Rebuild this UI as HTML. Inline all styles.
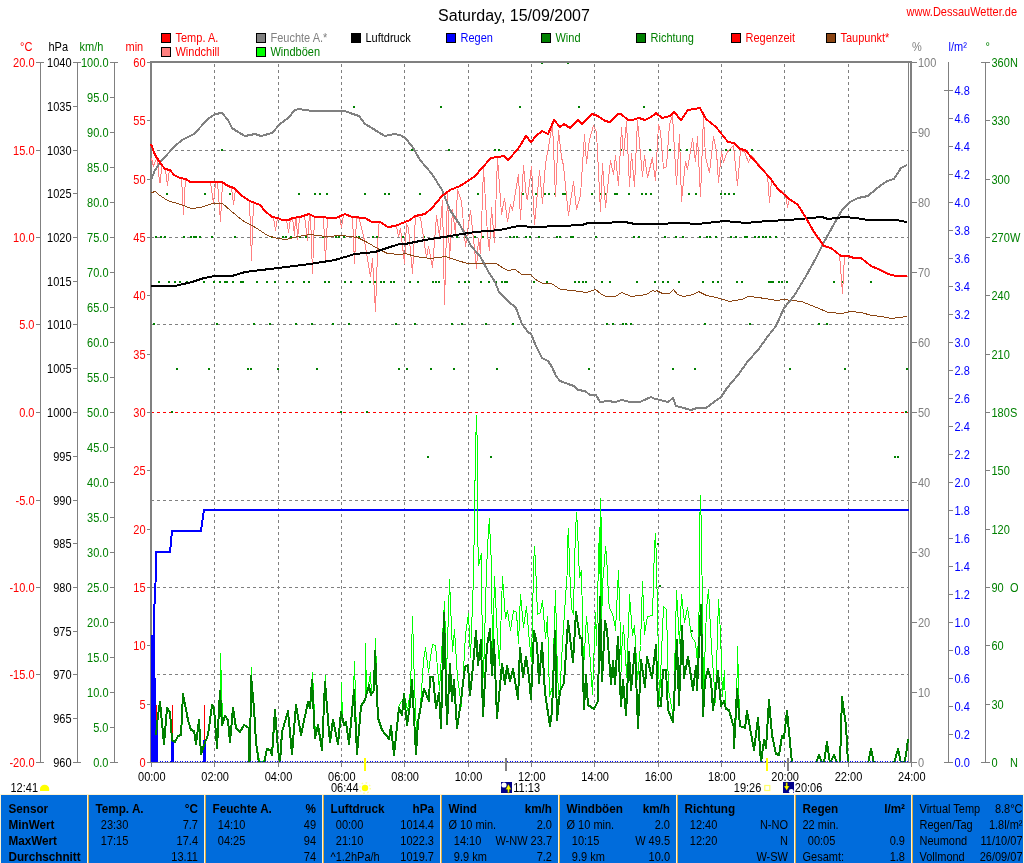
<!DOCTYPE html>
<html lang="de"><head><meta charset="utf-8"><title>DessauWetter – Saturday, 15/09/2007</title>
<style>
html,body{margin:0;padding:0;background:#fff}
svg{display:block;font-family:"Liberation Sans",Arial,sans-serif;font-size:12px;will-change:transform;-webkit-font-smoothing:antialiased}
</style></head><body>
<svg width="1024" height="863" viewBox="0 0 1024 863">
<rect width="1024" height="863" fill="#fff"/>
<text x="514" y="20.5" fill="#000" text-anchor="middle" font-size="16">Saturday, 15/09/2007</text>
<text transform="translate(1017 16) scale(0.917 1)" fill="#ff0000" text-anchor="end">www.DessauWetter.de</text>
<rect x="161.5" y="33.5" width="9" height="9" fill="#ff0000" stroke="#000" stroke-width="1"/>
<text transform="translate(175.5 42) scale(0.917 1)" fill="#ff0000" text-anchor="start">Temp. A.</text>
<rect x="161.5" y="47.5" width="9" height="9" fill="#ff8080" stroke="#000" stroke-width="1"/>
<text transform="translate(175.5 56) scale(0.917 1)" fill="#ff0000" text-anchor="start">Windchill</text>
<rect x="256.5" y="33.5" width="9" height="9" fill="#808080" stroke="#000" stroke-width="1"/>
<text transform="translate(270.5 42) scale(0.917 1)" fill="#808080" text-anchor="start">Feuchte A.*</text>
<rect x="256.5" y="47.5" width="9" height="9" fill="#00ff00" stroke="#000" stroke-width="1"/>
<text transform="translate(270.5 56) scale(0.917 1)" fill="#008000" text-anchor="start">Windböen</text>
<rect x="351.5" y="33.5" width="9" height="9" fill="#000000" stroke="#000" stroke-width="1"/>
<text transform="translate(365.5 42) scale(0.917 1)" fill="#000" text-anchor="start">Luftdruck</text>
<rect x="446.5" y="33.5" width="9" height="9" fill="#0000ff" stroke="#000" stroke-width="1"/>
<text transform="translate(460.5 42) scale(0.917 1)" fill="#0000ff" text-anchor="start">Regen</text>
<rect x="541.5" y="33.5" width="9" height="9" fill="#008000" stroke="#000" stroke-width="1"/>
<text transform="translate(555.5 42) scale(0.917 1)" fill="#008000" text-anchor="start">Wind</text>
<rect x="636.5" y="33.5" width="9" height="9" fill="#008000" stroke="#000" stroke-width="1"/>
<text transform="translate(650.5 42) scale(0.917 1)" fill="#008000" text-anchor="start">Richtung</text>
<rect x="731.5" y="33.5" width="9" height="9" fill="#ff0000" stroke="#000" stroke-width="1"/>
<text transform="translate(745.5 42) scale(0.917 1)" fill="#ff0000" text-anchor="start">Regenzeit</text>
<rect x="826.5" y="33.5" width="9" height="9" fill="#8b4513" stroke="#000" stroke-width="1"/>
<text transform="translate(840.5 42) scale(0.917 1)" fill="#ff0000" text-anchor="start">Taupunkt*</text>
<text transform="translate(20 51) scale(0.917 1)" fill="#ff0000" text-anchor="start">°C</text>
<text transform="translate(48.5 51) scale(0.917 1)" fill="#000" text-anchor="start">hPa</text>
<text transform="translate(79.5 51) scale(0.917 1)" fill="#008000" text-anchor="start">km/h</text>
<text transform="translate(125.5 51) scale(0.917 1)" fill="#ff0000" text-anchor="start">min</text>
<text transform="translate(912 51) scale(0.917 1)" fill="#808080" text-anchor="start">%</text>
<text transform="translate(948.5 51) scale(0.917 1)" fill="#0000ff" text-anchor="start">l/m²</text>
<text transform="translate(985.5 51) scale(0.917 1)" fill="#008000" text-anchor="start">°</text>
<g shape-rendering="crispEdges">
<line x1="40.5" y1="62.0" x2="40.5" y2="763.0" stroke="#808080" stroke-width="1"/>
<line x1="36" y1="62.5" x2="44" y2="62.5" stroke="#808080" stroke-width="1"/>
<line x1="36" y1="150.5" x2="41" y2="150.5" stroke="#808080" stroke-width="1"/>
<line x1="36" y1="237.5" x2="41" y2="237.5" stroke="#808080" stroke-width="1"/>
<line x1="36" y1="324.5" x2="41" y2="324.5" stroke="#808080" stroke-width="1"/>
<line x1="36" y1="412.5" x2="41" y2="412.5" stroke="#808080" stroke-width="1"/>
<line x1="36" y1="500.5" x2="41" y2="500.5" stroke="#808080" stroke-width="1"/>
<line x1="36" y1="587.5" x2="41" y2="587.5" stroke="#808080" stroke-width="1"/>
<line x1="36" y1="674.5" x2="41" y2="674.5" stroke="#808080" stroke-width="1"/>
<line x1="36" y1="762.5" x2="44" y2="762.5" stroke="#808080" stroke-width="1"/>
<line x1="77.5" y1="62.0" x2="77.5" y2="763.0" stroke="#808080" stroke-width="1"/>
<line x1="73" y1="62.5" x2="81" y2="62.5" stroke="#808080" stroke-width="1"/>
<line x1="73" y1="106.5" x2="78" y2="106.5" stroke="#808080" stroke-width="1"/>
<line x1="73" y1="150.5" x2="78" y2="150.5" stroke="#808080" stroke-width="1"/>
<line x1="73" y1="193.5" x2="78" y2="193.5" stroke="#808080" stroke-width="1"/>
<line x1="73" y1="237.5" x2="78" y2="237.5" stroke="#808080" stroke-width="1"/>
<line x1="73" y1="281.5" x2="78" y2="281.5" stroke="#808080" stroke-width="1"/>
<line x1="73" y1="324.5" x2="78" y2="324.5" stroke="#808080" stroke-width="1"/>
<line x1="73" y1="368.5" x2="78" y2="368.5" stroke="#808080" stroke-width="1"/>
<line x1="73" y1="412.5" x2="78" y2="412.5" stroke="#808080" stroke-width="1"/>
<line x1="73" y1="456.5" x2="78" y2="456.5" stroke="#808080" stroke-width="1"/>
<line x1="73" y1="500.5" x2="78" y2="500.5" stroke="#808080" stroke-width="1"/>
<line x1="73" y1="543.5" x2="78" y2="543.5" stroke="#808080" stroke-width="1"/>
<line x1="73" y1="587.5" x2="78" y2="587.5" stroke="#808080" stroke-width="1"/>
<line x1="73" y1="631.5" x2="78" y2="631.5" stroke="#808080" stroke-width="1"/>
<line x1="73" y1="674.5" x2="78" y2="674.5" stroke="#808080" stroke-width="1"/>
<line x1="73" y1="718.5" x2="78" y2="718.5" stroke="#808080" stroke-width="1"/>
<line x1="73" y1="762.5" x2="81" y2="762.5" stroke="#808080" stroke-width="1"/>
<line x1="114.5" y1="62.0" x2="114.5" y2="763.0" stroke="#808080" stroke-width="1"/>
<line x1="110" y1="62.5" x2="118" y2="62.5" stroke="#808080" stroke-width="1"/>
<line x1="110" y1="97.5" x2="115" y2="97.5" stroke="#808080" stroke-width="1"/>
<line x1="110" y1="132.5" x2="115" y2="132.5" stroke="#808080" stroke-width="1"/>
<line x1="110" y1="167.5" x2="115" y2="167.5" stroke="#808080" stroke-width="1"/>
<line x1="110" y1="202.5" x2="115" y2="202.5" stroke="#808080" stroke-width="1"/>
<line x1="110" y1="237.5" x2="115" y2="237.5" stroke="#808080" stroke-width="1"/>
<line x1="110" y1="272.5" x2="115" y2="272.5" stroke="#808080" stroke-width="1"/>
<line x1="110" y1="307.5" x2="115" y2="307.5" stroke="#808080" stroke-width="1"/>
<line x1="110" y1="342.5" x2="115" y2="342.5" stroke="#808080" stroke-width="1"/>
<line x1="110" y1="377.5" x2="115" y2="377.5" stroke="#808080" stroke-width="1"/>
<line x1="110" y1="412.5" x2="115" y2="412.5" stroke="#808080" stroke-width="1"/>
<line x1="110" y1="447.5" x2="115" y2="447.5" stroke="#808080" stroke-width="1"/>
<line x1="110" y1="482.5" x2="115" y2="482.5" stroke="#808080" stroke-width="1"/>
<line x1="110" y1="517.5" x2="115" y2="517.5" stroke="#808080" stroke-width="1"/>
<line x1="110" y1="552.5" x2="115" y2="552.5" stroke="#808080" stroke-width="1"/>
<line x1="110" y1="587.5" x2="115" y2="587.5" stroke="#808080" stroke-width="1"/>
<line x1="110" y1="622.5" x2="115" y2="622.5" stroke="#808080" stroke-width="1"/>
<line x1="110" y1="657.5" x2="115" y2="657.5" stroke="#808080" stroke-width="1"/>
<line x1="110" y1="692.5" x2="115" y2="692.5" stroke="#808080" stroke-width="1"/>
<line x1="110" y1="727.5" x2="115" y2="727.5" stroke="#808080" stroke-width="1"/>
<line x1="110" y1="762.5" x2="118" y2="762.5" stroke="#808080" stroke-width="1"/>
<line x1="147" y1="62.5" x2="150" y2="62.5" stroke="#808080" stroke-width="1"/>
<line x1="147" y1="120.5" x2="150" y2="120.5" stroke="#808080" stroke-width="1"/>
<line x1="147" y1="179.5" x2="150" y2="179.5" stroke="#808080" stroke-width="1"/>
<line x1="147" y1="237.5" x2="150" y2="237.5" stroke="#808080" stroke-width="1"/>
<line x1="147" y1="295.5" x2="150" y2="295.5" stroke="#808080" stroke-width="1"/>
<line x1="147" y1="354.5" x2="150" y2="354.5" stroke="#808080" stroke-width="1"/>
<line x1="147" y1="412.5" x2="150" y2="412.5" stroke="#808080" stroke-width="1"/>
<line x1="147" y1="470.5" x2="150" y2="470.5" stroke="#808080" stroke-width="1"/>
<line x1="147" y1="529.5" x2="150" y2="529.5" stroke="#808080" stroke-width="1"/>
<line x1="147" y1="587.5" x2="150" y2="587.5" stroke="#808080" stroke-width="1"/>
<line x1="147" y1="645.5" x2="150" y2="645.5" stroke="#808080" stroke-width="1"/>
<line x1="147" y1="704.5" x2="150" y2="704.5" stroke="#808080" stroke-width="1"/>
<line x1="147" y1="762.5" x2="150" y2="762.5" stroke="#808080" stroke-width="1"/>
<line x1="912" y1="62.5" x2="917" y2="62.5" stroke="#808080" stroke-width="1"/>
<line x1="912" y1="132.5" x2="917" y2="132.5" stroke="#808080" stroke-width="1"/>
<line x1="912" y1="202.5" x2="917" y2="202.5" stroke="#808080" stroke-width="1"/>
<line x1="912" y1="272.5" x2="917" y2="272.5" stroke="#808080" stroke-width="1"/>
<line x1="912" y1="342.5" x2="917" y2="342.5" stroke="#808080" stroke-width="1"/>
<line x1="912" y1="412.5" x2="917" y2="412.5" stroke="#808080" stroke-width="1"/>
<line x1="912" y1="482.5" x2="917" y2="482.5" stroke="#808080" stroke-width="1"/>
<line x1="912" y1="552.5" x2="917" y2="552.5" stroke="#808080" stroke-width="1"/>
<line x1="912" y1="622.5" x2="917" y2="622.5" stroke="#808080" stroke-width="1"/>
<line x1="912" y1="692.5" x2="917" y2="692.5" stroke="#808080" stroke-width="1"/>
<line x1="912" y1="762.5" x2="917" y2="762.5" stroke="#808080" stroke-width="1"/>
<line x1="948.5" y1="62.0" x2="948.5" y2="763.0" stroke="#808080" stroke-width="1"/>
<line x1="944" y1="90.5" x2="953" y2="90.5" stroke="#808080" stroke-width="1"/>
<line x1="949" y1="118.5" x2="953" y2="118.5" stroke="#808080" stroke-width="1"/>
<line x1="949" y1="146.5" x2="953" y2="146.5" stroke="#808080" stroke-width="1"/>
<line x1="949" y1="174.5" x2="953" y2="174.5" stroke="#808080" stroke-width="1"/>
<line x1="949" y1="202.5" x2="953" y2="202.5" stroke="#808080" stroke-width="1"/>
<line x1="949" y1="230.5" x2="953" y2="230.5" stroke="#808080" stroke-width="1"/>
<line x1="949" y1="258.5" x2="953" y2="258.5" stroke="#808080" stroke-width="1"/>
<line x1="949" y1="286.5" x2="953" y2="286.5" stroke="#808080" stroke-width="1"/>
<line x1="949" y1="314.5" x2="953" y2="314.5" stroke="#808080" stroke-width="1"/>
<line x1="949" y1="342.5" x2="953" y2="342.5" stroke="#808080" stroke-width="1"/>
<line x1="949" y1="370.5" x2="953" y2="370.5" stroke="#808080" stroke-width="1"/>
<line x1="949" y1="398.5" x2="953" y2="398.5" stroke="#808080" stroke-width="1"/>
<line x1="949" y1="426.5" x2="953" y2="426.5" stroke="#808080" stroke-width="1"/>
<line x1="949" y1="454.5" x2="953" y2="454.5" stroke="#808080" stroke-width="1"/>
<line x1="949" y1="482.5" x2="953" y2="482.5" stroke="#808080" stroke-width="1"/>
<line x1="949" y1="510.5" x2="953" y2="510.5" stroke="#808080" stroke-width="1"/>
<line x1="949" y1="538.5" x2="953" y2="538.5" stroke="#808080" stroke-width="1"/>
<line x1="949" y1="566.5" x2="953" y2="566.5" stroke="#808080" stroke-width="1"/>
<line x1="949" y1="594.5" x2="953" y2="594.5" stroke="#808080" stroke-width="1"/>
<line x1="949" y1="622.5" x2="953" y2="622.5" stroke="#808080" stroke-width="1"/>
<line x1="949" y1="650.5" x2="953" y2="650.5" stroke="#808080" stroke-width="1"/>
<line x1="949" y1="678.5" x2="953" y2="678.5" stroke="#808080" stroke-width="1"/>
<line x1="949" y1="706.5" x2="953" y2="706.5" stroke="#808080" stroke-width="1"/>
<line x1="949" y1="734.5" x2="953" y2="734.5" stroke="#808080" stroke-width="1"/>
<line x1="944" y1="762.5" x2="953" y2="762.5" stroke="#808080" stroke-width="1"/>
<line x1="985.5" y1="62.0" x2="985.5" y2="763.0" stroke="#808080" stroke-width="1"/>
<line x1="981" y1="62.5" x2="990" y2="62.5" stroke="#808080" stroke-width="1"/>
<line x1="986" y1="120.5" x2="990" y2="120.5" stroke="#808080" stroke-width="1"/>
<line x1="986" y1="179.5" x2="990" y2="179.5" stroke="#808080" stroke-width="1"/>
<line x1="986" y1="237.5" x2="990" y2="237.5" stroke="#808080" stroke-width="1"/>
<line x1="986" y1="295.5" x2="990" y2="295.5" stroke="#808080" stroke-width="1"/>
<line x1="986" y1="354.5" x2="990" y2="354.5" stroke="#808080" stroke-width="1"/>
<line x1="986" y1="412.5" x2="990" y2="412.5" stroke="#808080" stroke-width="1"/>
<line x1="986" y1="470.5" x2="990" y2="470.5" stroke="#808080" stroke-width="1"/>
<line x1="986" y1="529.5" x2="990" y2="529.5" stroke="#808080" stroke-width="1"/>
<line x1="986" y1="587.5" x2="990" y2="587.5" stroke="#808080" stroke-width="1"/>
<line x1="986" y1="645.5" x2="990" y2="645.5" stroke="#808080" stroke-width="1"/>
<line x1="986" y1="704.5" x2="990" y2="704.5" stroke="#808080" stroke-width="1"/>
<line x1="981" y1="762.5" x2="990" y2="762.5" stroke="#808080" stroke-width="1"/>
<line x1="214.5" y1="763" x2="214.5" y2="63.0" stroke="#808080" stroke-width="1" stroke-dasharray="3,3"/>
<line x1="278.5" y1="763" x2="278.5" y2="63.0" stroke="#808080" stroke-width="1" stroke-dasharray="3,3"/>
<line x1="341.5" y1="763" x2="341.5" y2="63.0" stroke="#808080" stroke-width="1" stroke-dasharray="3,3"/>
<line x1="404.5" y1="763" x2="404.5" y2="63.0" stroke="#808080" stroke-width="1" stroke-dasharray="3,3"/>
<line x1="468.5" y1="763" x2="468.5" y2="63.0" stroke="#808080" stroke-width="1" stroke-dasharray="3,3"/>
<line x1="531.5" y1="763" x2="531.5" y2="63.0" stroke="#808080" stroke-width="1" stroke-dasharray="3,3"/>
<line x1="594.5" y1="763" x2="594.5" y2="63.0" stroke="#808080" stroke-width="1" stroke-dasharray="3,3"/>
<line x1="658.5" y1="763" x2="658.5" y2="63.0" stroke="#808080" stroke-width="1" stroke-dasharray="3,3"/>
<line x1="721.5" y1="763" x2="721.5" y2="63.0" stroke="#808080" stroke-width="1" stroke-dasharray="3,3"/>
<line x1="784.5" y1="763" x2="784.5" y2="63.0" stroke="#808080" stroke-width="1" stroke-dasharray="3,3"/>
<line x1="848.5" y1="763" x2="848.5" y2="63.0" stroke="#808080" stroke-width="1" stroke-dasharray="3,3"/>
<line x1="151" y1="150.5" x2="909" y2="150.5" stroke="#808080" stroke-width="1" stroke-dasharray="3,3"/>
<line x1="151" y1="237.5" x2="909" y2="237.5" stroke="#808080" stroke-width="1" stroke-dasharray="3,3"/>
<line x1="151" y1="324.5" x2="909" y2="324.5" stroke="#808080" stroke-width="1" stroke-dasharray="3,3"/>
<line x1="151" y1="412.5" x2="909" y2="412.5" stroke="#ff0000" stroke-width="1" stroke-dasharray="3,3"/>
<line x1="151" y1="500.5" x2="909" y2="500.5" stroke="#808080" stroke-width="1" stroke-dasharray="3,3"/>
<line x1="151" y1="587.5" x2="909" y2="587.5" stroke="#808080" stroke-width="1" stroke-dasharray="3,3"/>
<line x1="151" y1="674.5" x2="909" y2="674.5" stroke="#808080" stroke-width="1" stroke-dasharray="3,3"/>
<rect x="353" y="106" width="2" height="2" fill="#008000"/>
<rect x="221" y="149" width="2" height="2" fill="#008000"/>
<rect x="166" y="193" width="2" height="2" fill="#008000"/>
<rect x="204" y="193" width="2" height="2" fill="#008000"/>
<rect x="229" y="193" width="2" height="2" fill="#008000"/>
<rect x="298" y="193" width="2" height="2" fill="#008000"/>
<rect x="314" y="193" width="2" height="2" fill="#008000"/>
<rect x="319" y="193" width="2" height="2" fill="#008000"/>
<rect x="326" y="193" width="2" height="2" fill="#008000"/>
<rect x="364" y="193" width="2" height="2" fill="#008000"/>
<rect x="384" y="193" width="2" height="2" fill="#008000"/>
<rect x="388" y="193" width="2" height="2" fill="#008000"/>
<rect x="155" y="236" width="2" height="2" fill="#008000"/>
<rect x="160" y="236" width="2" height="2" fill="#008000"/>
<rect x="164" y="236" width="2" height="2" fill="#008000"/>
<rect x="183" y="236" width="2" height="2" fill="#008000"/>
<rect x="190" y="236" width="2" height="2" fill="#008000"/>
<rect x="193" y="236" width="2" height="2" fill="#008000"/>
<rect x="195" y="236" width="2" height="2" fill="#008000"/>
<rect x="199" y="236" width="2" height="2" fill="#008000"/>
<rect x="211" y="236" width="2" height="2" fill="#008000"/>
<rect x="234" y="236" width="2" height="2" fill="#008000"/>
<rect x="271" y="236" width="2" height="2" fill="#008000"/>
<rect x="282" y="236" width="2" height="2" fill="#008000"/>
<rect x="285" y="236" width="2" height="2" fill="#008000"/>
<rect x="290" y="236" width="2" height="2" fill="#008000"/>
<rect x="299" y="236" width="2" height="2" fill="#008000"/>
<rect x="305" y="236" width="2" height="2" fill="#008000"/>
<rect x="322" y="236" width="2" height="2" fill="#008000"/>
<rect x="335" y="236" width="2" height="2" fill="#008000"/>
<rect x="338" y="236" width="2" height="2" fill="#008000"/>
<rect x="343" y="236" width="2" height="2" fill="#008000"/>
<rect x="355" y="236" width="2" height="2" fill="#008000"/>
<rect x="358" y="236" width="2" height="2" fill="#008000"/>
<rect x="372" y="236" width="2" height="2" fill="#008000"/>
<rect x="376" y="236" width="2" height="2" fill="#008000"/>
<rect x="402" y="236" width="2" height="2" fill="#008000"/>
<rect x="541" y="62" width="2" height="2" fill="#008000"/>
<rect x="567" y="62" width="2" height="2" fill="#008000"/>
<rect x="440" y="106" width="2" height="2" fill="#008000"/>
<rect x="519" y="106" width="2" height="2" fill="#008000"/>
<rect x="578" y="106" width="2" height="2" fill="#008000"/>
<rect x="643" y="106" width="2" height="2" fill="#008000"/>
<rect x="411" y="149" width="2" height="2" fill="#008000"/>
<rect x="448" y="149" width="2" height="2" fill="#008000"/>
<rect x="494" y="149" width="2" height="2" fill="#008000"/>
<rect x="498" y="149" width="2" height="2" fill="#008000"/>
<rect x="620" y="149" width="2" height="2" fill="#008000"/>
<rect x="649" y="149" width="2" height="2" fill="#008000"/>
<rect x="419" y="193" width="2" height="2" fill="#008000"/>
<rect x="477" y="193" width="2" height="2" fill="#008000"/>
<rect x="522" y="193" width="2" height="2" fill="#008000"/>
<rect x="535" y="193" width="2" height="2" fill="#008000"/>
<rect x="544" y="193" width="2" height="2" fill="#008000"/>
<rect x="548" y="193" width="2" height="2" fill="#008000"/>
<rect x="554" y="193" width="2" height="2" fill="#008000"/>
<rect x="562" y="193" width="2" height="2" fill="#008000"/>
<rect x="564" y="193" width="2" height="2" fill="#008000"/>
<rect x="591" y="193" width="2" height="2" fill="#008000"/>
<rect x="599" y="193" width="2" height="2" fill="#008000"/>
<rect x="604" y="193" width="2" height="2" fill="#008000"/>
<rect x="614" y="193" width="2" height="2" fill="#008000"/>
<rect x="616" y="193" width="2" height="2" fill="#008000"/>
<rect x="628" y="193" width="2" height="2" fill="#008000"/>
<rect x="641" y="193" width="2" height="2" fill="#008000"/>
<rect x="645" y="193" width="2" height="2" fill="#008000"/>
<rect x="650" y="193" width="2" height="2" fill="#008000"/>
<rect x="402" y="236" width="2" height="2" fill="#008000"/>
<rect x="423" y="236" width="2" height="2" fill="#008000"/>
<rect x="443" y="236" width="2" height="2" fill="#008000"/>
<rect x="446" y="236" width="2" height="2" fill="#008000"/>
<rect x="456" y="236" width="2" height="2" fill="#008000"/>
<rect x="464" y="236" width="2" height="2" fill="#008000"/>
<rect x="474" y="236" width="2" height="2" fill="#008000"/>
<rect x="482" y="236" width="2" height="2" fill="#008000"/>
<rect x="509" y="236" width="2" height="2" fill="#008000"/>
<rect x="513" y="236" width="2" height="2" fill="#008000"/>
<rect x="516" y="236" width="2" height="2" fill="#008000"/>
<rect x="525" y="236" width="2" height="2" fill="#008000"/>
<rect x="529" y="236" width="2" height="2" fill="#008000"/>
<rect x="538" y="236" width="2" height="2" fill="#008000"/>
<rect x="556" y="236" width="2" height="2" fill="#008000"/>
<rect x="559" y="236" width="2" height="2" fill="#008000"/>
<rect x="570" y="236" width="2" height="2" fill="#008000"/>
<rect x="572" y="236" width="2" height="2" fill="#008000"/>
<rect x="595" y="236" width="2" height="2" fill="#008000"/>
<rect x="633" y="236" width="2" height="2" fill="#008000"/>
<rect x="638" y="236" width="2" height="2" fill="#008000"/>
<rect x="669" y="149" width="2" height="2" fill="#008000"/>
<rect x="679" y="149" width="2" height="2" fill="#008000"/>
<rect x="686" y="149" width="2" height="2" fill="#008000"/>
<rect x="725" y="149" width="2" height="2" fill="#008000"/>
<rect x="729" y="149" width="2" height="2" fill="#008000"/>
<rect x="751" y="149" width="2" height="2" fill="#008000"/>
<rect x="688" y="193" width="2" height="2" fill="#008000"/>
<rect x="695" y="193" width="2" height="2" fill="#008000"/>
<rect x="720" y="193" width="2" height="2" fill="#008000"/>
<rect x="724" y="193" width="2" height="2" fill="#008000"/>
<rect x="728" y="193" width="2" height="2" fill="#008000"/>
<rect x="733" y="193" width="2" height="2" fill="#008000"/>
<rect x="664" y="236" width="2" height="2" fill="#008000"/>
<rect x="675" y="236" width="2" height="2" fill="#008000"/>
<rect x="682" y="236" width="2" height="2" fill="#008000"/>
<rect x="699" y="236" width="2" height="2" fill="#008000"/>
<rect x="706" y="236" width="2" height="2" fill="#008000"/>
<rect x="709" y="236" width="2" height="2" fill="#008000"/>
<rect x="715" y="236" width="2" height="2" fill="#008000"/>
<rect x="730" y="236" width="2" height="2" fill="#008000"/>
<rect x="735" y="236" width="2" height="2" fill="#008000"/>
<rect x="744" y="236" width="2" height="2" fill="#008000"/>
<rect x="746" y="236" width="2" height="2" fill="#008000"/>
<rect x="754" y="236" width="2" height="2" fill="#008000"/>
<rect x="758" y="236" width="2" height="2" fill="#008000"/>
<rect x="762" y="236" width="2" height="2" fill="#008000"/>
<rect x="765" y="236" width="2" height="2" fill="#008000"/>
<rect x="769" y="236" width="2" height="2" fill="#008000"/>
<rect x="775" y="236" width="2" height="2" fill="#008000"/>
<rect x="158" y="281" width="2" height="2" fill="#008000"/>
<rect x="168" y="281" width="2" height="2" fill="#008000"/>
<rect x="174" y="281" width="2" height="2" fill="#008000"/>
<rect x="179" y="281" width="2" height="2" fill="#008000"/>
<rect x="186" y="281" width="2" height="2" fill="#008000"/>
<rect x="203" y="281" width="2" height="2" fill="#008000"/>
<rect x="213" y="281" width="2" height="2" fill="#008000"/>
<rect x="219" y="281" width="2" height="2" fill="#008000"/>
<rect x="224" y="281" width="2" height="2" fill="#008000"/>
<rect x="226" y="281" width="2" height="2" fill="#008000"/>
<rect x="232" y="281" width="2" height="2" fill="#008000"/>
<rect x="240" y="281" width="2" height="2" fill="#008000"/>
<rect x="242" y="281" width="2" height="2" fill="#008000"/>
<rect x="256" y="281" width="2" height="2" fill="#008000"/>
<rect x="266" y="281" width="2" height="2" fill="#008000"/>
<rect x="274" y="281" width="2" height="2" fill="#008000"/>
<rect x="286" y="281" width="2" height="2" fill="#008000"/>
<rect x="292" y="281" width="2" height="2" fill="#008000"/>
<rect x="303" y="281" width="2" height="2" fill="#008000"/>
<rect x="308" y="281" width="2" height="2" fill="#008000"/>
<rect x="324" y="281" width="2" height="2" fill="#008000"/>
<rect x="328" y="281" width="2" height="2" fill="#008000"/>
<rect x="344" y="281" width="2" height="2" fill="#008000"/>
<rect x="350" y="281" width="2" height="2" fill="#008000"/>
<rect x="361" y="281" width="2" height="2" fill="#008000"/>
<rect x="369" y="281" width="2" height="2" fill="#008000"/>
<rect x="374" y="281" width="2" height="2" fill="#008000"/>
<rect x="380" y="281" width="2" height="2" fill="#008000"/>
<rect x="383" y="281" width="2" height="2" fill="#008000"/>
<rect x="390" y="281" width="2" height="2" fill="#008000"/>
<rect x="393" y="281" width="2" height="2" fill="#008000"/>
<rect x="153" y="323" width="2" height="2" fill="#008000"/>
<rect x="216" y="323" width="2" height="2" fill="#008000"/>
<rect x="253" y="323" width="2" height="2" fill="#008000"/>
<rect x="269" y="323" width="2" height="2" fill="#008000"/>
<rect x="295" y="323" width="2" height="2" fill="#008000"/>
<rect x="311" y="323" width="2" height="2" fill="#008000"/>
<rect x="332" y="323" width="2" height="2" fill="#008000"/>
<rect x="348" y="323" width="2" height="2" fill="#008000"/>
<rect x="395" y="323" width="2" height="2" fill="#008000"/>
<rect x="176" y="368" width="2" height="2" fill="#008000"/>
<rect x="208" y="368" width="2" height="2" fill="#008000"/>
<rect x="247" y="368" width="2" height="2" fill="#008000"/>
<rect x="250" y="368" width="2" height="2" fill="#008000"/>
<rect x="277" y="368" width="2" height="2" fill="#008000"/>
<rect x="316" y="368" width="2" height="2" fill="#008000"/>
<rect x="398" y="368" width="2" height="2" fill="#008000"/>
<rect x="171" y="411" width="2" height="2" fill="#008000"/>
<rect x="340" y="411" width="2" height="2" fill="#008000"/>
<rect x="366" y="411" width="2" height="2" fill="#008000"/>
<rect x="409" y="281" width="2" height="2" fill="#008000"/>
<rect x="417" y="281" width="2" height="2" fill="#008000"/>
<rect x="432" y="281" width="2" height="2" fill="#008000"/>
<rect x="435" y="281" width="2" height="2" fill="#008000"/>
<rect x="438" y="281" width="2" height="2" fill="#008000"/>
<rect x="458" y="281" width="2" height="2" fill="#008000"/>
<rect x="464" y="281" width="2" height="2" fill="#008000"/>
<rect x="468" y="281" width="2" height="2" fill="#008000"/>
<rect x="480" y="281" width="2" height="2" fill="#008000"/>
<rect x="488" y="281" width="2" height="2" fill="#008000"/>
<rect x="495" y="281" width="2" height="2" fill="#008000"/>
<rect x="501" y="281" width="2" height="2" fill="#008000"/>
<rect x="504" y="281" width="2" height="2" fill="#008000"/>
<rect x="506" y="281" width="2" height="2" fill="#008000"/>
<rect x="533" y="281" width="2" height="2" fill="#008000"/>
<rect x="546" y="281" width="2" height="2" fill="#008000"/>
<rect x="574" y="281" width="2" height="2" fill="#008000"/>
<rect x="578" y="281" width="2" height="2" fill="#008000"/>
<rect x="582" y="281" width="2" height="2" fill="#008000"/>
<rect x="585" y="281" width="2" height="2" fill="#008000"/>
<rect x="601" y="281" width="2" height="2" fill="#008000"/>
<rect x="609" y="281" width="2" height="2" fill="#008000"/>
<rect x="636" y="281" width="2" height="2" fill="#008000"/>
<rect x="654" y="281" width="2" height="2" fill="#008000"/>
<rect x="414" y="323" width="2" height="2" fill="#008000"/>
<rect x="451" y="323" width="2" height="2" fill="#008000"/>
<rect x="461" y="323" width="2" height="2" fill="#008000"/>
<rect x="485" y="323" width="2" height="2" fill="#008000"/>
<rect x="512" y="323" width="2" height="2" fill="#008000"/>
<rect x="606" y="323" width="2" height="2" fill="#008000"/>
<rect x="612" y="323" width="2" height="2" fill="#008000"/>
<rect x="622" y="323" width="2" height="2" fill="#008000"/>
<rect x="625" y="323" width="2" height="2" fill="#008000"/>
<rect x="630" y="323" width="2" height="2" fill="#008000"/>
<rect x="406" y="368" width="2" height="2" fill="#008000"/>
<rect x="430" y="368" width="2" height="2" fill="#008000"/>
<rect x="453" y="368" width="2" height="2" fill="#008000"/>
<rect x="496" y="368" width="2" height="2" fill="#008000"/>
<rect x="588" y="368" width="2" height="2" fill="#008000"/>
<rect x="427" y="456" width="2" height="2" fill="#008000"/>
<rect x="490" y="456" width="2" height="2" fill="#008000"/>
<rect x="662" y="281" width="2" height="2" fill="#008000"/>
<rect x="667" y="281" width="2" height="2" fill="#008000"/>
<rect x="678" y="281" width="2" height="2" fill="#008000"/>
<rect x="702" y="281" width="2" height="2" fill="#008000"/>
<rect x="712" y="281" width="2" height="2" fill="#008000"/>
<rect x="717" y="281" width="2" height="2" fill="#008000"/>
<rect x="736" y="281" width="2" height="2" fill="#008000"/>
<rect x="741" y="281" width="2" height="2" fill="#008000"/>
<rect x="768" y="281" width="2" height="2" fill="#008000"/>
<rect x="770" y="281" width="2" height="2" fill="#008000"/>
<rect x="772" y="281" width="2" height="2" fill="#008000"/>
<rect x="778" y="281" width="2" height="2" fill="#008000"/>
<rect x="781" y="281" width="2" height="2" fill="#008000"/>
<rect x="786" y="281" width="2" height="2" fill="#008000"/>
<rect x="833" y="281" width="2" height="2" fill="#008000"/>
<rect x="841" y="281" width="2" height="2" fill="#008000"/>
<rect x="870" y="281" width="2" height="2" fill="#008000"/>
<rect x="704" y="323" width="2" height="2" fill="#008000"/>
<rect x="749" y="323" width="2" height="2" fill="#008000"/>
<rect x="818" y="323" width="2" height="2" fill="#008000"/>
<rect x="826" y="323" width="2" height="2" fill="#008000"/>
<rect x="672" y="368" width="2" height="2" fill="#008000"/>
<rect x="694" y="368" width="2" height="2" fill="#008000"/>
<rect x="789" y="368" width="2" height="2" fill="#008000"/>
<rect x="844" y="368" width="2" height="2" fill="#008000"/>
<rect x="906" y="368" width="2" height="2" fill="#008000"/>
<rect x="905" y="411" width="2" height="2" fill="#008000"/>
<rect x="894" y="456" width="2" height="2" fill="#008000"/>
<rect x="897" y="456" width="2" height="2" fill="#008000"/>
<rect x="657" y="543" width="2" height="2" fill="#008000"/>
<rect x="659" y="585" width="2" height="2" fill="#008000"/>
<rect x="691" y="630" width="2" height="2" fill="#008000"/>
</g>
<g shape-rendering="crispEdges">
<rect x="150" y="61" width="762" height="2" fill="#808080"/>
<rect x="150" y="62" width="2" height="701" fill="#808080"/>
<rect x="908" y="62" width="1" height="701" fill="#808080"/>
<rect x="910" y="62" width="2" height="701" fill="#808080"/>
<line x1="150" y1="762.5" x2="912" y2="762.5" stroke="#808080" stroke-width="1"/>
</g>
<g shape-rendering="crispEdges">
<rect x="151" y="635" width="4" height="127" fill="#0000ff"/>
<rect x="151" y="678" width="5" height="84" fill="#0000ff"/>
<rect x="151" y="720" width="7" height="42" fill="#0000ff"/>
<rect x="171" y="740" width="3" height="22" fill="#0000ff"/>
<rect x="203" y="740" width="3" height="22" fill="#0000ff"/>
<line x1="156.5" y1="705" x2="156.5" y2="720" stroke="#ff0000" stroke-width="1"/>
<line x1="172.5" y1="705" x2="172.5" y2="740" stroke="#ff0000" stroke-width="1"/>
<line x1="204.5" y1="705" x2="204.5" y2="740" stroke="#ff0000" stroke-width="1"/>
</g>
<polyline points="154,762 154,615 155,594 156,572 156,552 170,552 172,531 201,531 204,510 909,510" fill="none" stroke="#0000ff" stroke-width="2" stroke-linejoin="round" shape-rendering="crispEdges"/>
<polyline points="155.5,735.5 157.5,715.5 159.5,702.5 163.5,743.5 167.5,707.5 169.5,712.5 172.5,740.5 175.5,742.5 177.5,736.5 181.5,735.5 183.5,693.5 187.5,720.5 191.5,730.5 193.5,731.5 196.5,743.5 198.5,720.5 201.5,753.5 203.5,745.5 207.5,735.5 212.5,705.5 213.5,707.5 217.5,747.5 219.5,710.5 220.5,691.5 220.5,653.5 222.5,718.5 222.5,725.5 225.5,716.5 228.5,720.5 230.5,742.5 233.5,707.5 236.5,727.5 240.5,732.5 243.5,725.5 248.5,727.5 249.5,761.5 249.5,761.5 250.5,761.5 251.5,676.5 251.5,667.5 252.5,695.5 253.5,707.5 256.5,742.5 259.5,761.5 263.5,761.5 267.5,748.5 270.5,750.5 272.5,755.5 275.5,710.5 277.5,750.5 280.5,761.5 282.5,732.5 287.5,711.5 292.5,753.5 296.5,705.5 301.5,735.5 307.5,702.5 310.5,707.5 311.5,696.5 312.5,680.5 312.5,672.5 314.5,714.5 315.5,737.5 317.5,725.5 322.5,750.5 323.5,723.5 325.5,682.5 325.5,675.5 326.5,702.5 328.5,732.5 330.5,742.5 333.5,720.5 337.5,743.5 339.5,725.5 341.5,712.5 341.5,682.5 342.5,720.5 343.5,725.5 346.5,722.5 348.5,743.5 353.5,698.5 353.5,690.5 354.5,661.5 356.5,734.5 357.5,753.5 361.5,706.5 363.5,702.5 365.5,700.5 365.5,643.5 366.5,694.5 368.5,686.5 368.5,685.5 370.5,672.5 371.5,695.5 371.5,694.5 373.5,690.5 374.5,682.5 375.5,651.5 375.5,638.5 377.5,704.5 377.5,717.5 382.5,730.5 388.5,738.5 391.5,726.5 394.5,755.5 398.5,707.5 400.5,702.5 402.5,700.5 404.5,695.5 407.5,710.5 410.5,690.5 412.5,616.5 414.5,685.5 416.5,732.5 420.5,705.5 423.5,660.5 425.5,647.5 428.5,672.5 430.5,657.5 432.5,644.5 435.5,645.5 439.5,690.5 444.5,601.5 446.5,675.5 449.5,579.5 452.5,651.5 454.5,629.5 457.5,677.5 461.5,706.5 465.5,634.5 468.5,613.5 470.5,657.5 473.5,577.5 474.5,513.5 475.5,449.5 476.5,415.5 477.5,453.5 477.5,527.5 478.5,565.5 481.5,553.5 481.5,593.5 483.5,677.5 486.5,569.5 487.5,549.5 488.5,529.5 489.5,518.5 490.5,549.5 491.5,560.5 492.5,665.5 494.5,576.5 497.5,638.5 499.5,665.5 502.5,576.5 505.5,618.5 507.5,610.5 510.5,630.5 513.5,610.5 516.5,612.5 518.5,643.5 520.5,594.5 523.5,627.5 526.5,606.5 529.5,642.5 531.5,661.5 533.5,571.5 533.5,566.5 534.5,546.5 535.5,562.5 537.5,614.5 540.5,612.5 542.5,600.5 545.5,638.5 547.5,616.5 549.5,696.5 552.5,686.5 555.5,590.5 557.5,677.5 559.5,700.5 562.5,642.5 565.5,597.5 567.5,568.5 567.5,541.5 568.5,528.5 569.5,566.5 571.5,608.5 573.5,614.5 574.5,565.5 575.5,531.5 576.5,512.5 577.5,527.5 578.5,554.5 579.5,577.5 581.5,570.5 583.5,669.5 586.5,616.5 589.5,649.5 592.5,694.5 595.5,612.5 596.5,645.5 598.5,560.5 599.5,527.5 600.5,618.5 600.5,498.5 600.5,501.5 601.5,532.5 601.5,624.5 602.5,589.5 602.5,583.5 604.5,561.5 604.5,561.5 605.5,546.5 605.5,546.5 606.5,555.5 606.5,556.5 607.5,572.5 607.5,572.5 608.5,599.5 609.5,608.5 612.5,613.5 613.5,618.5 615.5,628.5 615.5,630.5 618.5,570.5 618.5,570.5 621.5,671.5 621.5,653.5 623.5,625.5 623.5,625.5 626.5,673.5 626.5,677.5 629.5,599.5 629.5,594.5 632.5,635.5 634.5,625.5 637.5,679.5 640.5,645.5 642.5,581.5 644.5,634.5 647.5,616.5 652.5,615.5 654.5,546.5 655.5,533.5 656.5,562.5 657.5,614.5 659.5,700.5 663.5,606.5 666.5,609.5 668.5,690.5 673.5,716.5 676.5,590.5 679.5,643.5 681.5,594.5 684.5,622.5 687.5,607.5 691.5,636.5 695.5,642.5 697.5,663.5 699.5,595.5 699.5,529.5 700.5,495.5 701.5,533.5 703.5,696.5 706.5,608.5 708.5,589.5 711.5,647.5 715.5,702.5 718.5,599.5 720.5,632.5 722.5,696.5 724.5,670.5 725.5,709.5 728.5,710.5 733.5,727.5 734.5,747.5 736.5,711.5 737.5,646.5 739.5,715.5 739.5,726.5" fill="none" stroke="#00ff00" stroke-width="1" stroke-linejoin="round" shape-rendering="crispEdges"/>
<clipPath id="pc"><rect x="150" y="62" width="762" height="700"/></clipPath>
<g clip-path="url(#pc)"><polyline points="156,735 158,715 160,702 164,744 167,708 170,712 172,740 175,742 178,736 181,735 183,694 188,720 191,730 194,731 196,744 199,720 201,754 204,745 208,735 212,705 214,708 217,748 220,691 222,725 225,716 228,720 230,742 233,708 236,728 240,732 244,725 249,728 249,763 250,763 251,676 254,708 256,742 259,763 264,763 267,749 270,750 272,755 275,710 278,750 280,763 282,732 288,711 292,754 296,705 301,735 308,702 310,708 312,680 315,738 318,725 322,750 325,682 329,732 330,742 333,720 338,744 341,712 344,725 346,722 349,744 354,690 357,754 361,706 365,700 369,685 371,695 374,690 375,651 378,718 382,730 389,739 391,726 394,755 399,708 400,710 402,715 404,694 407,725 410,705 412,680 416,754 418,722 421,705 424,689 429,701 430,677 433,677 436,708 439,693 441,728 444,613 447,724 450,664 452,701 454,680 457,728 460,708 465,667 468,665 470,695 472,677 476,631 478,665 481,640 483,716 487,646 490,629 492,675 494,640 497,718 502,664 505,684 507,666 510,681 513,669 518,699 520,648 523,677 526,657 529,677 531,699 534,631 537,644 539,683 542,643 545,693 550,726 552,712 555,631 557,720 560,691 564,683 568,621 573,662 576,612 580,638 582,638 584,709 586,675 588,705 594,709 598,701 600,597 602,681 605,621 607,630 611,684 613,661 615,684 618,637 621,706 623,680 626,715 629,652 631,690 635,648 638,728 641,660 645,687 647,657 652,678 656,645 658,706 661,706 663,670 666,670 668,710 673,722 677,640 679,705 682,626 684,678 688,657 693,690 696,666 697,690 701,605 703,716 705,681 708,669 711,680 713,710 718,671 721,706 724,701 726,709 729,710 734,728 734,748 737,689 740,726 745,728 747,711 754,750 758,718 761,763 764,740 766,748 769,700 772,735 776,754 779,755 782,736 784,738 787,711 792,763 816,763 819,755 822,763 824,763 827,742 830,763 834,755 837,763 840,763 842,697 846,725 848,763 868,763 871,749 874,763 894,763 898,749 901,763 904,763 906,755 908,739" fill="none" stroke="#008000" stroke-width="2" stroke-linejoin="round" shape-rendering="crispEdges"/></g>
<polyline points="151.5,158.5 153.5,166.5 155.5,160.5 157.5,158.5 157.5,158.5 159.5,182.5 160.5,182.5 161.5,165.5 161.5,164.5 165.5,169.5 167.5,185.5 169.5,169.5 170.5,170.5 173.5,175.5 180.5,177.5 181.5,177.5 183.5,214.5 185.5,178.5 186.5,178.5 190.5,182.5 210.5,182.5 213.5,203.5 215.5,182.5 217.5,182.5 220.5,221.5 222.5,182.5 222.5,182.5 227.5,186.5 231.5,187.5 233.5,204.5 235.5,189.5 242.5,196.5 249.5,200.5 251.5,260.5 253.5,202.5 260.5,205.5 265.5,211.5 272.5,217.5 273.5,217.5 275.5,230.5 277.5,218.5 282.5,220.5 286.5,219.5 288.5,232.5 290.5,218.5 292.5,217.5 294.5,235.5 295.5,217.5 296.5,217.5 297.5,239.5 299.5,217.5 300.5,217.5 304.5,215.5 307.5,240.5 309.5,214.5 310.5,215.5 312.5,273.5 314.5,216.5 315.5,217.5 323.5,217.5 325.5,261.5 327.5,217.5 336.5,217.5 339.5,216.5 341.5,227.5 343.5,214.5 345.5,214.5 352.5,216.5 354.5,263.5 356.5,217.5 359.5,219.5 364.5,240.5 370.5,276.5 372.5,258.5 375.5,311.5 378.5,224.5 380.5,222.5 387.5,227.5 396.5,226.5 398.5,236.5 400.5,228.5 404.5,263.5 406.5,223.5 408.5,228.5 412.5,273.5 415.5,215.5 420.5,217.5 426.5,257.5 428.5,246.5 432.5,267.5 436.5,215.5 439.5,236.5 442.5,200.5 444.5,304.5 447.5,192.5 449.5,259.5 452.5,209.5 455.5,234.5 457.5,189.5 461.5,201.5 465.5,246.5 470.5,210.5 476.5,268.5 478.5,238.5 480.5,253.5 483.5,168.5 487.5,234.5 489.5,250.5 491.5,207.5 494.5,242.5 497.5,157.5 501.5,214.5 504.5,198.5 507.5,221.5 510.5,204.5 512.5,210.5 518.5,174.5 520.5,219.5 523.5,165.5 526.5,198.5 527.5,199.5 531.5,166.5 534.5,224.5 539.5,170.5 542.5,203.5 545.5,163.5 548.5,147.5 552.5,123.5 555.5,196.5 558.5,130.5 561.5,157.5 563.5,165.5 568.5,215.5 573.5,181.5 576.5,209.5 580.5,195.5 584.5,134.5 586.5,163.5 589.5,139.5 593.5,125.5 596.5,132.5 600.5,211.5 602.5,163.5 605.5,207.5 610.5,160.5 613.5,174.5 615.5,155.5 618.5,185.5 621.5,127.5 623.5,155.5 626.5,121.5 629.5,186.5 631.5,153.5 634.5,186.5 637.5,120.5 642.5,176.5 644.5,155.5 647.5,177.5 652.5,157.5 652.5,159.5 655.5,180.5 658.5,124.5 660.5,131.5 663.5,168.5 666.5,166.5 669.5,124.5 672.5,115.5 676.5,184.5 679.5,134.5 681.5,201.5 685.5,161.5 687.5,169.5 692.5,138.5 695.5,161.5 697.5,136.5 700.5,196.5 703.5,116.5 705.5,157.5 709.5,172.5 713.5,136.5 716.5,151.5 718.5,182.5 721.5,151.5 723.5,162.5 726.5,153.5 729.5,149.5 733.5,145.5 737.5,185.5 740.5,150.5 744.5,151.5 748.5,162.5 751.5,155.5 761.5,167.5 767.5,174.5 769.5,202.5 771.5,180.5 778.5,188.5 785.5,194.5 787.5,207.5 789.5,198.5 798.5,205.5 806.5,217.5 813.5,232.5 823.5,246.5 831.5,248.5 839.5,254.5 842.5,293.5 844.5,255.5 848.5,255.5 853.5,257.5 861.5,258.5 871.5,266.5 878.5,268.5 888.5,273.5 896.5,276.5 907.5,276.5" fill="none" stroke="#ff8080" stroke-width="1" stroke-linejoin="round" shape-rendering="crispEdges"/>
<polyline points="151.5,192.5 155.5,191.5 158.5,194.5 167.5,200.5 180.5,204.5 191.5,208.5 200.5,207.5 212.5,203.5 222.5,203.5 230.5,210.5 242.5,220.5 255.5,227.5 267.5,235.5 277.5,238.5 286.5,239.5 297.5,236.5 310.5,234.5 325.5,236.5 342.5,235.5 357.5,237.5 367.5,242.5 377.5,248.5 387.5,253.5 400.5,254.5 405.5,253.5 415.5,256.5 430.5,258.5 445.5,256.5 457.5,260.5 467.5,263.5 482.5,263.5 496.5,263.5 500.5,266.5 507.5,270.5 515.5,269.5 521.5,274.5 530.5,274.5 535.5,279.5 542.5,283.5 551.5,283.5 560.5,289.5 572.5,290.5 586.5,292.5 595.5,289.5 600.5,293.5 605.5,296.5 615.5,296.5 621.5,292.5 631.5,296.5 646.5,294.5 652.5,290.5 655.5,291.5 656.5,290.5 662.5,293.5 669.5,293.5 673.5,289.5 677.5,294.5 683.5,296.5 693.5,294.5 698.5,291.5 706.5,295.5 716.5,297.5 729.5,301.5 741.5,299.5 748.5,296.5 758.5,297.5 776.5,300.5 783.5,299.5 801.5,301.5 816.5,307.5 828.5,312.5 842.5,313.5 849.5,311.5 861.5,312.5 871.5,315.5 881.5,316.5 891.5,318.5 907.5,316.5" fill="none" stroke="#8b4513" stroke-width="1" stroke-linejoin="round" shape-rendering="crispEdges"/>
<polyline points="151,180 155,170 162,160 175,146 182,140 194,134 208,119 215,114 222,113 228,120 232,128 238,132 245,136 255,134 261,136 272,133 280,124 288,118 295,110 299,109 312,111 345,111 350,113 359,116 365,124 372,128 378,132 385,136 394,134 400,135 405,138 412,146 420,160 432,174 442,190 450,210 460,225 468,240 471,246 480,256 488,271 495,282 499,292 508,301 516,308 522,324 528,332 531,334 536,346 542,358 548,361 552,367 556,376 560,381 568,384 574,386 578,390 585,391 590,395 596,395 600,402 608,401 615,402 622,400 630,402 640,402 651,397 655,399 656,399 668,402 673,398 676,406 691,410 697,408 706,408 714,402 721,397 727,388 738,375 748,361 758,350 768,336 776,326 784,308 794,296 806,276 816,258 822,246 824,242 834,224 842,210 850,202 858,198 868,196 876,189 887,181 894,179 901,168 907,165" fill="none" stroke="#808080" stroke-width="2" stroke-linejoin="round" shape-rendering="crispEdges"/>
<polyline points="151,286 175,286 192,282 204,278 215,276 232,276 245,272 278,268 310,264 335,260 355,254 375,252 390,247 400,244 405,244 425,240 450,236 475,232 500,230 518,226 535,227 560,226 582,225 588,223 600,223 625,222 635,224 655,224 656,224 681,223 698,224 724,221 746,223 768,221 788,220 811,218 822,217 828,219 844,217 856,218 868,220 881,220 896,220 907,222" fill="none" stroke="#000" stroke-width="2" stroke-linejoin="round" shape-rendering="crispEdges"/>
<polyline points="151,144 155,155 161,164 165,169 170,170 174,175 180,178 186,179 190,182 222,182 228,186 234,188 242,196 250,201 260,205 265,211 272,217 278,218 282,220 289,220 292,218 300,217 309,214 315,217 336,218 345,214 352,217 365,218 372,222 380,222 388,227 395,226 400,224 405,222 410,220 415,216 425,214 432,208 442,196 450,190 460,186 468,181 475,176 482,168 491,158 504,156 508,160 518,149 526,136 531,142 536,136 542,131 548,134 554,120 560,127 564,124 570,128 578,120 582,124 592,114 598,116 605,121 610,122 618,114 621,114 628,120 632,120 639,118 645,120 651,117 655,114 656,113 662,118 670,116 674,112 681,120 688,110 700,108 706,119 716,127 728,142 734,143 740,149 745,150 761,168 770,178 778,189 788,198 798,205 806,218 814,232 824,246 831,248 841,256 848,256 854,258 861,258 871,266 878,269 888,274 896,276 907,276" fill="none" stroke="#ff0000" stroke-width="2" stroke-linejoin="round" shape-rendering="crispEdges"/>
<g shape-rendering="crispEdges">
<line x1="150" y1="762.5" x2="912" y2="762.5" stroke="#808080" stroke-width="1"/>
<line x1="152" y1="761.5" x2="909" y2="761.5" stroke="#0000ff" stroke-width="1" stroke-dasharray="1,1.5"/>
<line x1="151.5" y1="763" x2="151.5" y2="767" stroke="#808080" stroke-width="1"/>
<line x1="214.5" y1="763" x2="214.5" y2="767" stroke="#808080" stroke-width="1"/>
<line x1="278.5" y1="763" x2="278.5" y2="767" stroke="#808080" stroke-width="1"/>
<line x1="341.5" y1="763" x2="341.5" y2="767" stroke="#808080" stroke-width="1"/>
<line x1="404.5" y1="763" x2="404.5" y2="767" stroke="#808080" stroke-width="1"/>
<line x1="468.5" y1="763" x2="468.5" y2="767" stroke="#808080" stroke-width="1"/>
<line x1="531.5" y1="763" x2="531.5" y2="767" stroke="#808080" stroke-width="1"/>
<line x1="594.5" y1="763" x2="594.5" y2="767" stroke="#808080" stroke-width="1"/>
<line x1="658.5" y1="763" x2="658.5" y2="767" stroke="#808080" stroke-width="1"/>
<line x1="721.5" y1="763" x2="721.5" y2="767" stroke="#808080" stroke-width="1"/>
<line x1="784.5" y1="763" x2="784.5" y2="767" stroke="#808080" stroke-width="1"/>
<line x1="848.5" y1="763" x2="848.5" y2="767" stroke="#808080" stroke-width="1"/>
<line x1="911.5" y1="763" x2="911.5" y2="767" stroke="#808080" stroke-width="1"/>
<rect x="364" y="758" width="2" height="13" fill="#ffff00"/>
<rect x="766" y="758" width="2" height="13" fill="#ffff00"/>
<rect x="505" y="758" width="2" height="13" fill="#808080"/>
<rect x="787" y="758" width="2" height="13" fill="#808080"/>
</g>
<text transform="translate(34.5 67) scale(0.917 1)" fill="#ff0000" text-anchor="end">20.0</text>
<text transform="translate(34.5 155) scale(0.917 1)" fill="#ff0000" text-anchor="end">15.0</text>
<text transform="translate(34.5 242) scale(0.917 1)" fill="#ff0000" text-anchor="end">10.0</text>
<text transform="translate(34.5 329) scale(0.917 1)" fill="#ff0000" text-anchor="end">5.0</text>
<text transform="translate(34.5 417) scale(0.917 1)" fill="#ff0000" text-anchor="end">0.0</text>
<text transform="translate(34.5 505) scale(0.917 1)" fill="#ff0000" text-anchor="end">-5.0</text>
<text transform="translate(34.5 592) scale(0.917 1)" fill="#ff0000" text-anchor="end">-10.0</text>
<text transform="translate(34.5 679) scale(0.917 1)" fill="#ff0000" text-anchor="end">-15.0</text>
<text transform="translate(34.5 767) scale(0.917 1)" fill="#ff0000" text-anchor="end">-20.0</text>
<text transform="translate(71.5 67) scale(0.917 1)" fill="#000" text-anchor="end">1040</text>
<text transform="translate(71.5 111) scale(0.917 1)" fill="#000" text-anchor="end">1035</text>
<text transform="translate(71.5 155) scale(0.917 1)" fill="#000" text-anchor="end">1030</text>
<text transform="translate(71.5 198) scale(0.917 1)" fill="#000" text-anchor="end">1025</text>
<text transform="translate(71.5 242) scale(0.917 1)" fill="#000" text-anchor="end">1020</text>
<text transform="translate(71.5 286) scale(0.917 1)" fill="#000" text-anchor="end">1015</text>
<text transform="translate(71.5 329) scale(0.917 1)" fill="#000" text-anchor="end">1010</text>
<text transform="translate(71.5 373) scale(0.917 1)" fill="#000" text-anchor="end">1005</text>
<text transform="translate(71.5 417) scale(0.917 1)" fill="#000" text-anchor="end">1000</text>
<text transform="translate(71.5 461) scale(0.917 1)" fill="#000" text-anchor="end">995</text>
<text transform="translate(71.5 505) scale(0.917 1)" fill="#000" text-anchor="end">990</text>
<text transform="translate(71.5 548) scale(0.917 1)" fill="#000" text-anchor="end">985</text>
<text transform="translate(71.5 592) scale(0.917 1)" fill="#000" text-anchor="end">980</text>
<text transform="translate(71.5 636) scale(0.917 1)" fill="#000" text-anchor="end">975</text>
<text transform="translate(71.5 679) scale(0.917 1)" fill="#000" text-anchor="end">970</text>
<text transform="translate(71.5 723) scale(0.917 1)" fill="#000" text-anchor="end">965</text>
<text transform="translate(71.5 767) scale(0.917 1)" fill="#000" text-anchor="end">960</text>
<text transform="translate(108.5 67) scale(0.917 1)" fill="#008000" text-anchor="end">100.0</text>
<text transform="translate(108.5 102) scale(0.917 1)" fill="#008000" text-anchor="end">95.0</text>
<text transform="translate(108.5 137) scale(0.917 1)" fill="#008000" text-anchor="end">90.0</text>
<text transform="translate(108.5 172) scale(0.917 1)" fill="#008000" text-anchor="end">85.0</text>
<text transform="translate(108.5 207) scale(0.917 1)" fill="#008000" text-anchor="end">80.0</text>
<text transform="translate(108.5 242) scale(0.917 1)" fill="#008000" text-anchor="end">75.0</text>
<text transform="translate(108.5 277) scale(0.917 1)" fill="#008000" text-anchor="end">70.0</text>
<text transform="translate(108.5 312) scale(0.917 1)" fill="#008000" text-anchor="end">65.0</text>
<text transform="translate(108.5 347) scale(0.917 1)" fill="#008000" text-anchor="end">60.0</text>
<text transform="translate(108.5 382) scale(0.917 1)" fill="#008000" text-anchor="end">55.0</text>
<text transform="translate(108.5 417) scale(0.917 1)" fill="#008000" text-anchor="end">50.0</text>
<text transform="translate(108.5 452) scale(0.917 1)" fill="#008000" text-anchor="end">45.0</text>
<text transform="translate(108.5 487) scale(0.917 1)" fill="#008000" text-anchor="end">40.0</text>
<text transform="translate(108.5 522) scale(0.917 1)" fill="#008000" text-anchor="end">35.0</text>
<text transform="translate(108.5 557) scale(0.917 1)" fill="#008000" text-anchor="end">30.0</text>
<text transform="translate(108.5 592) scale(0.917 1)" fill="#008000" text-anchor="end">25.0</text>
<text transform="translate(108.5 627) scale(0.917 1)" fill="#008000" text-anchor="end">20.0</text>
<text transform="translate(108.5 662) scale(0.917 1)" fill="#008000" text-anchor="end">15.0</text>
<text transform="translate(108.5 697) scale(0.917 1)" fill="#008000" text-anchor="end">10.0</text>
<text transform="translate(108.5 732) scale(0.917 1)" fill="#008000" text-anchor="end">5.0</text>
<text transform="translate(108.5 767) scale(0.917 1)" fill="#008000" text-anchor="end">0.0</text>
<text transform="translate(145.5 67) scale(0.917 1)" fill="#ff0000" text-anchor="end">60</text>
<text transform="translate(145.5 125) scale(0.917 1)" fill="#ff0000" text-anchor="end">55</text>
<text transform="translate(145.5 184) scale(0.917 1)" fill="#ff0000" text-anchor="end">50</text>
<text transform="translate(145.5 242) scale(0.917 1)" fill="#ff0000" text-anchor="end">45</text>
<text transform="translate(145.5 300) scale(0.917 1)" fill="#ff0000" text-anchor="end">40</text>
<text transform="translate(145.5 359) scale(0.917 1)" fill="#ff0000" text-anchor="end">35</text>
<text transform="translate(145.5 417) scale(0.917 1)" fill="#ff0000" text-anchor="end">30</text>
<text transform="translate(145.5 475) scale(0.917 1)" fill="#ff0000" text-anchor="end">25</text>
<text transform="translate(145.5 534) scale(0.917 1)" fill="#ff0000" text-anchor="end">20</text>
<text transform="translate(145.5 592) scale(0.917 1)" fill="#ff0000" text-anchor="end">15</text>
<text transform="translate(145.5 650) scale(0.917 1)" fill="#ff0000" text-anchor="end">10</text>
<text transform="translate(145.5 709) scale(0.917 1)" fill="#ff0000" text-anchor="end">5</text>
<text transform="translate(145.5 767) scale(0.917 1)" fill="#ff0000" text-anchor="end">0</text>
<text transform="translate(918 67) scale(0.917 1)" fill="#808080" text-anchor="start">100</text>
<text transform="translate(918 137) scale(0.917 1)" fill="#808080" text-anchor="start">90</text>
<text transform="translate(918 207) scale(0.917 1)" fill="#808080" text-anchor="start">80</text>
<text transform="translate(918 277) scale(0.917 1)" fill="#808080" text-anchor="start">70</text>
<text transform="translate(918 347) scale(0.917 1)" fill="#808080" text-anchor="start">60</text>
<text transform="translate(918 417) scale(0.917 1)" fill="#808080" text-anchor="start">50</text>
<text transform="translate(918 487) scale(0.917 1)" fill="#808080" text-anchor="start">40</text>
<text transform="translate(918 557) scale(0.917 1)" fill="#808080" text-anchor="start">30</text>
<text transform="translate(918 627) scale(0.917 1)" fill="#808080" text-anchor="start">20</text>
<text transform="translate(918 697) scale(0.917 1)" fill="#808080" text-anchor="start">10</text>
<text transform="translate(918 767) scale(0.917 1)" fill="#808080" text-anchor="start">0</text>
<text transform="translate(954.5 95) scale(0.917 1)" fill="#0000ff" text-anchor="start">4.8</text>
<text transform="translate(954.5 123) scale(0.917 1)" fill="#0000ff" text-anchor="start">4.6</text>
<text transform="translate(954.5 151) scale(0.917 1)" fill="#0000ff" text-anchor="start">4.4</text>
<text transform="translate(954.5 179) scale(0.917 1)" fill="#0000ff" text-anchor="start">4.2</text>
<text transform="translate(954.5 207) scale(0.917 1)" fill="#0000ff" text-anchor="start">4.0</text>
<text transform="translate(954.5 235) scale(0.917 1)" fill="#0000ff" text-anchor="start">3.8</text>
<text transform="translate(954.5 263) scale(0.917 1)" fill="#0000ff" text-anchor="start">3.6</text>
<text transform="translate(954.5 291) scale(0.917 1)" fill="#0000ff" text-anchor="start">3.4</text>
<text transform="translate(954.5 319) scale(0.917 1)" fill="#0000ff" text-anchor="start">3.2</text>
<text transform="translate(954.5 347) scale(0.917 1)" fill="#0000ff" text-anchor="start">3.0</text>
<text transform="translate(954.5 375) scale(0.917 1)" fill="#0000ff" text-anchor="start">2.8</text>
<text transform="translate(954.5 403) scale(0.917 1)" fill="#0000ff" text-anchor="start">2.6</text>
<text transform="translate(954.5 431) scale(0.917 1)" fill="#0000ff" text-anchor="start">2.4</text>
<text transform="translate(954.5 459) scale(0.917 1)" fill="#0000ff" text-anchor="start">2.2</text>
<text transform="translate(954.5 487) scale(0.917 1)" fill="#0000ff" text-anchor="start">2.0</text>
<text transform="translate(954.5 515) scale(0.917 1)" fill="#0000ff" text-anchor="start">1.8</text>
<text transform="translate(954.5 543) scale(0.917 1)" fill="#0000ff" text-anchor="start">1.6</text>
<text transform="translate(954.5 571) scale(0.917 1)" fill="#0000ff" text-anchor="start">1.4</text>
<text transform="translate(954.5 599) scale(0.917 1)" fill="#0000ff" text-anchor="start">1.2</text>
<text transform="translate(954.5 627) scale(0.917 1)" fill="#0000ff" text-anchor="start">1.0</text>
<text transform="translate(954.5 655) scale(0.917 1)" fill="#0000ff" text-anchor="start">0.8</text>
<text transform="translate(954.5 683) scale(0.917 1)" fill="#0000ff" text-anchor="start">0.6</text>
<text transform="translate(954.5 711) scale(0.917 1)" fill="#0000ff" text-anchor="start">0.4</text>
<text transform="translate(954.5 739) scale(0.917 1)" fill="#0000ff" text-anchor="start">0.2</text>
<text transform="translate(954.5 767) scale(0.917 1)" fill="#0000ff" text-anchor="start">0.0</text>
<text transform="translate(991.5 67) scale(0.917 1)" fill="#008000" text-anchor="start">360</text>
<text transform="translate(991.5 125) scale(0.917 1)" fill="#008000" text-anchor="start">330</text>
<text transform="translate(991.5 184) scale(0.917 1)" fill="#008000" text-anchor="start">300</text>
<text transform="translate(991.5 242) scale(0.917 1)" fill="#008000" text-anchor="start">270</text>
<text transform="translate(991.5 300) scale(0.917 1)" fill="#008000" text-anchor="start">240</text>
<text transform="translate(991.5 359) scale(0.917 1)" fill="#008000" text-anchor="start">210</text>
<text transform="translate(991.5 417) scale(0.917 1)" fill="#008000" text-anchor="start">180</text>
<text transform="translate(991.5 475) scale(0.917 1)" fill="#008000" text-anchor="start">150</text>
<text transform="translate(991.5 534) scale(0.917 1)" fill="#008000" text-anchor="start">120</text>
<text transform="translate(991.5 592) scale(0.917 1)" fill="#008000" text-anchor="start">90</text>
<text transform="translate(991.5 650) scale(0.917 1)" fill="#008000" text-anchor="start">60</text>
<text transform="translate(991.5 709) scale(0.917 1)" fill="#008000" text-anchor="start">30</text>
<text transform="translate(991.5 767) scale(0.917 1)" fill="#008000" text-anchor="start">0</text>
<text transform="translate(1010 67) scale(0.917 1)" fill="#008000" text-anchor="start">N</text>
<text transform="translate(1010 242) scale(0.917 1)" fill="#008000" text-anchor="start">W</text>
<text transform="translate(1010 417) scale(0.917 1)" fill="#008000" text-anchor="start">S</text>
<text transform="translate(1010 592) scale(0.917 1)" fill="#008000" text-anchor="start">O</text>
<text transform="translate(1010 767) scale(0.917 1)" fill="#008000" text-anchor="start">N</text>
<text transform="translate(151.8 781) scale(0.917 1)" fill="#000" text-anchor="middle">00:00</text>
<text transform="translate(215.1 781) scale(0.917 1)" fill="#000" text-anchor="middle">02:00</text>
<text transform="translate(278.5 781) scale(0.917 1)" fill="#000" text-anchor="middle">04:00</text>
<text transform="translate(341.8 781) scale(0.917 1)" fill="#000" text-anchor="middle">06:00</text>
<text transform="translate(405.1 781) scale(0.917 1)" fill="#000" text-anchor="middle">08:00</text>
<text transform="translate(468.5 781) scale(0.917 1)" fill="#000" text-anchor="middle">10:00</text>
<text transform="translate(531.8 781) scale(0.917 1)" fill="#000" text-anchor="middle">12:00</text>
<text transform="translate(595.1 781) scale(0.917 1)" fill="#000" text-anchor="middle">14:00</text>
<text transform="translate(658.5 781) scale(0.917 1)" fill="#000" text-anchor="middle">16:00</text>
<text transform="translate(721.8 781) scale(0.917 1)" fill="#000" text-anchor="middle">18:00</text>
<text transform="translate(785.1 781) scale(0.917 1)" fill="#000" text-anchor="middle">20:00</text>
<text transform="translate(848.5 781) scale(0.917 1)" fill="#000" text-anchor="middle">22:00</text>
<text transform="translate(911.8 781) scale(0.917 1)" fill="#000" text-anchor="middle">24:00</text>
<text transform="translate(10.5 792) scale(0.917 1)" fill="#000" text-anchor="start">12:41</text>
<path d="M40 791 v-2.3 a4.6 3.9 0 0 1 9.2 0 v2.3 z" fill="#ffff00"/>
<text transform="translate(331 792) scale(0.917 1)" fill="#000" text-anchor="start">06:44</text>
<g transform="translate(365 788)"><circle r="5.3" fill="none" stroke="#ffff9a" stroke-width="1.4" stroke-dasharray="1.6,2.56"/><circle r="3.2" fill="#ffff00"/></g>
<g shape-rendering="crispEdges"><rect x="501" y="782" width="11" height="11" fill="#00008b"/></g>
<circle cx="504" cy="785" r="2.6" fill="#fff"/>
<path d="M508.5 784 l2.8 5.6 h-1.9 v3.2 h-1.8 v-3.2 h-1.9 z" fill="#ffff00" stroke="#000" stroke-width=".3"/>
<text transform="translate(513.3 792) scale(0.917 1)" fill="#000" text-anchor="start">11:13</text>
<text transform="translate(733.8 792) scale(0.917 1)" fill="#000" text-anchor="start">19:26</text>
<rect x="764.8" y="785.5" width="5" height="5" fill="none" stroke="#ffff66" stroke-width="1.2"/>
<g shape-rendering="crispEdges"><rect x="783" y="782" width="11" height="11" fill="#00008b"/></g>
<circle cx="791.3" cy="791.3" r="2.4" fill="#fff"/>
<path d="M786.7 790.6 l-2.8 -4.6 h1.9 v-3.6 h1.8 v3.6 h1.9 z" fill="#ffff00" stroke="#000" stroke-width=".3"/>
<text transform="translate(794.8 792) scale(0.917 1)" fill="#000" text-anchor="start">20:06</text>
<g shape-rendering="crispEdges">
<rect x="0" y="794" width="1024" height="69" fill="#fff3d2"/>
<rect x="1" y="795" width="1022" height="68" fill="#006cdc"/>
<rect x="0" y="795" width="1" height="68" fill="#fff3d2"/>
<rect x="87" y="795" width="1" height="68" fill="#fff3d2"/>
<rect x="88" y="795" width="1" height="68" fill="#d9a93e"/>
<rect x="204" y="795" width="1" height="68" fill="#fff3d2"/>
<rect x="205" y="795" width="1" height="68" fill="#d9a93e"/>
<rect x="322" y="795" width="1" height="68" fill="#fff3d2"/>
<rect x="323" y="795" width="1" height="68" fill="#d9a93e"/>
<rect x="440" y="795" width="1" height="68" fill="#fff3d2"/>
<rect x="441" y="795" width="1" height="68" fill="#d9a93e"/>
<rect x="558" y="795" width="1" height="68" fill="#fff3d2"/>
<rect x="559" y="795" width="1" height="68" fill="#d9a93e"/>
<rect x="676" y="795" width="1" height="68" fill="#fff3d2"/>
<rect x="677" y="795" width="1" height="68" fill="#d9a93e"/>
<rect x="794" y="795" width="1" height="68" fill="#fff3d2"/>
<rect x="795" y="795" width="1" height="68" fill="#d9a93e"/>
<rect x="911" y="795" width="1" height="68" fill="#fff3d2"/>
<rect x="912" y="795" width="1" height="68" fill="#d9a93e"/>
</g>
<text transform="translate(8.5 813) scale(0.975 1)" fill="#000" text-anchor="start" font-weight="bold">Sensor</text>
<text transform="translate(8.5 829) scale(0.975 1)" fill="#000" text-anchor="start" font-weight="bold">MinWert</text>
<text transform="translate(8.5 845) scale(0.975 1)" fill="#000" text-anchor="start" font-weight="bold">MaxWert</text>
<text transform="translate(8.5 861) scale(0.975 1)" fill="#000" text-anchor="start" font-weight="bold">Durchschnitt</text>
<text transform="translate(95.5 813) scale(0.975 1)" fill="#000" text-anchor="start" font-weight="bold">Temp. A.</text>
<text transform="translate(198 813) scale(0.975 1)" fill="#000" text-anchor="end" font-weight="bold">°C</text>
<text transform="translate(100.8 829) scale(0.917 1)" fill="#000" text-anchor="start">23:30</text>
<text transform="translate(198 829) scale(0.917 1)" fill="#000" text-anchor="end">7.7</text>
<text transform="translate(100.8 845) scale(0.917 1)" fill="#000" text-anchor="start">17:15</text>
<text transform="translate(198 845) scale(0.917 1)" fill="#000" text-anchor="end">17.4</text>
<text transform="translate(198 861) scale(0.917 1)" fill="#000" text-anchor="end">13.11</text>
<text transform="translate(212.5 813) scale(0.975 1)" fill="#000" text-anchor="start" font-weight="bold">Feuchte A.</text>
<text transform="translate(316 813) scale(0.975 1)" fill="#000" text-anchor="end" font-weight="bold">%</text>
<text transform="translate(217.8 829) scale(0.917 1)" fill="#000" text-anchor="start">14:10</text>
<text transform="translate(316 829) scale(0.917 1)" fill="#000" text-anchor="end">49</text>
<text transform="translate(217.8 845) scale(0.917 1)" fill="#000" text-anchor="start">04:25</text>
<text transform="translate(316 845) scale(0.917 1)" fill="#000" text-anchor="end">94</text>
<text transform="translate(316 861) scale(0.917 1)" fill="#000" text-anchor="end">74</text>
<text transform="translate(330.5 813) scale(0.975 1)" fill="#000" text-anchor="start" font-weight="bold">Luftdruck</text>
<text transform="translate(434 813) scale(0.975 1)" fill="#000" text-anchor="end" font-weight="bold">hPa</text>
<text transform="translate(335.8 829) scale(0.917 1)" fill="#000" text-anchor="start">00:00</text>
<text transform="translate(434 829) scale(0.917 1)" fill="#000" text-anchor="end">1014.4</text>
<text transform="translate(335.8 845) scale(0.917 1)" fill="#000" text-anchor="start">21:10</text>
<text transform="translate(434 845) scale(0.917 1)" fill="#000" text-anchor="end">1022.3</text>
<text transform="translate(330.5 861) scale(0.917 1)" fill="#000" text-anchor="start">^1.2hPa/h</text>
<text transform="translate(434 861) scale(0.917 1)" fill="#000" text-anchor="end">1019.7</text>
<text transform="translate(448.5 813) scale(0.975 1)" fill="#000" text-anchor="start" font-weight="bold">Wind</text>
<text transform="translate(552 813) scale(0.975 1)" fill="#000" text-anchor="end" font-weight="bold">km/h</text>
<text transform="translate(448.5 829) scale(0.917 1)" fill="#000" text-anchor="start">Ø 10 min.</text>
<text transform="translate(552 829) scale(0.917 1)" fill="#000" text-anchor="end">2.0</text>
<text transform="translate(453.8 845) scale(0.917 1)" fill="#000" text-anchor="start">14:10</text>
<text transform="translate(552 845) scale(0.917 1)" fill="#000" text-anchor="end">W-NW 23.7</text>
<text transform="translate(453.8 861) scale(0.917 1)" fill="#000" text-anchor="start">9.9 km</text>
<text transform="translate(552 861) scale(0.917 1)" fill="#000" text-anchor="end">7.2</text>
<text transform="translate(566.5 813) scale(0.975 1)" fill="#000" text-anchor="start" font-weight="bold">Windböen</text>
<text transform="translate(670 813) scale(0.975 1)" fill="#000" text-anchor="end" font-weight="bold">km/h</text>
<text transform="translate(566.5 829) scale(0.917 1)" fill="#000" text-anchor="start">Ø 10 min.</text>
<text transform="translate(670 829) scale(0.917 1)" fill="#000" text-anchor="end">2.0</text>
<text transform="translate(571.8 845) scale(0.917 1)" fill="#000" text-anchor="start">10:15</text>
<text transform="translate(670 845) scale(0.917 1)" fill="#000" text-anchor="end">W 49.5</text>
<text transform="translate(571.8 861) scale(0.917 1)" fill="#000" text-anchor="start">9.9 km</text>
<text transform="translate(670 861) scale(0.917 1)" fill="#000" text-anchor="end">10.0</text>
<text transform="translate(684.5 813) scale(0.975 1)" fill="#000" text-anchor="start" font-weight="bold">Richtung</text>
<text transform="translate(689.8 829) scale(0.917 1)" fill="#000" text-anchor="start">12:40</text>
<text transform="translate(788 829) scale(0.917 1)" fill="#000" text-anchor="end">N-NO</text>
<text transform="translate(689.8 845) scale(0.917 1)" fill="#000" text-anchor="start">12:20</text>
<text transform="translate(788 845) scale(0.917 1)" fill="#000" text-anchor="end">N</text>
<text transform="translate(788 861) scale(0.917 1)" fill="#000" text-anchor="end">W-SW</text>
<text transform="translate(802.5 813) scale(0.975 1)" fill="#000" text-anchor="start" font-weight="bold">Regen</text>
<text transform="translate(905 813) scale(0.975 1)" fill="#000" text-anchor="end" font-weight="bold">l/m²</text>
<text transform="translate(802.5 829) scale(0.917 1)" fill="#000" text-anchor="start">22 min.</text>
<text transform="translate(807.8 845) scale(0.917 1)" fill="#000" text-anchor="start">00:05</text>
<text transform="translate(905 845) scale(0.917 1)" fill="#000" text-anchor="end">0.9</text>
<text transform="translate(802.5 861) scale(0.917 1)" fill="#000" text-anchor="start">Gesamt:</text>
<text transform="translate(905 861) scale(0.917 1)" fill="#000" text-anchor="end">1.8</text>
<text transform="translate(919.5 813) scale(0.917 1)" fill="#000" text-anchor="start">Virtual Temp</text>
<text transform="translate(1022.5 813) scale(0.917 1)" fill="#000" text-anchor="end">8.8°C</text>
<text transform="translate(919.5 829) scale(0.917 1)" fill="#000" text-anchor="start">Regen/Tag</text>
<text transform="translate(1022.5 829) scale(0.917 1)" fill="#000" text-anchor="end">1.8l/m²</text>
<text transform="translate(919.5 845) scale(0.917 1)" fill="#000" text-anchor="start">Neumond</text>
<text transform="translate(1022.5 845) scale(0.917 1)" fill="#000" text-anchor="end">11/10/07</text>
<text transform="translate(919.5 861) scale(0.917 1)" fill="#000" text-anchor="start">Vollmond</text>
<text transform="translate(1022.5 861) scale(0.917 1)" fill="#000" text-anchor="end">26/09/07</text>
</svg>
</body></html>
